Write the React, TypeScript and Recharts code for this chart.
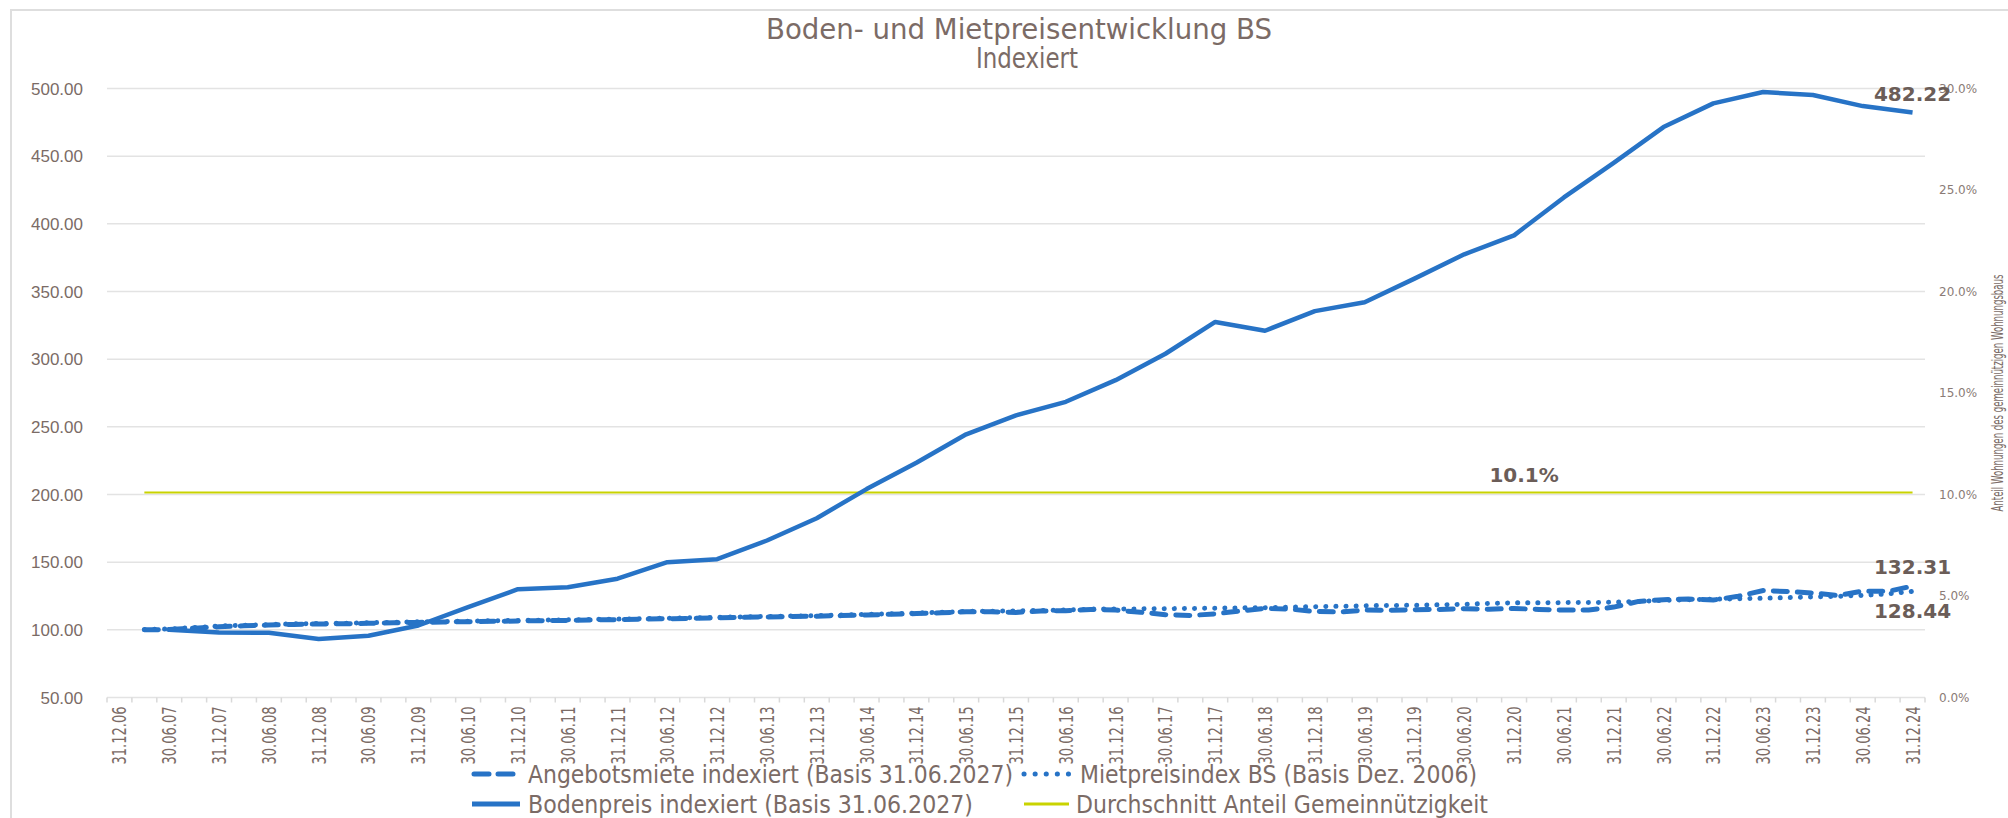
import { CartesianGrid, Legend, LabelList, Line, LineChart, XAxis, YAxis } from "recharts";

const CATEGORIES = [
  "31.12.06",
  "31.03.07", "30.06.07", "30.09.07", "31.12.07",
  "31.03.08", "30.06.08", "30.09.08", "31.12.08",
  "31.03.09", "30.06.09", "30.09.09", "31.12.09",
  "31.03.10", "30.06.10", "30.09.10", "31.12.10",
  "31.03.11", "30.06.11", "30.09.11", "31.12.11",
  "31.03.12", "30.06.12", "30.09.12", "31.12.12",
  "31.03.13", "30.06.13", "30.09.13", "31.12.13",
  "31.03.14", "30.06.14", "30.09.14", "31.12.14",
  "31.03.15", "30.06.15", "30.09.15", "31.12.15",
  "31.03.16", "30.06.16", "30.09.16", "31.12.16",
  "31.03.17", "30.06.17", "30.09.17", "31.12.17",
  "31.03.18", "30.06.18", "30.09.18", "31.12.18",
  "31.03.19", "30.06.19", "30.09.19", "31.12.19",
  "31.03.20", "30.06.20", "30.09.20", "31.12.20",
  "31.03.21", "30.06.21", "30.09.21", "31.12.21",
  "31.03.22", "30.06.22", "30.09.22", "31.12.22",
  "31.03.23", "30.06.23", "30.09.23", "31.12.23",
  "31.03.24", "30.06.24", "30.09.24", "31.12.24",
];

// Angebotsmiete indexiert (quarterly)
const ANGEBOTSMIETE = [
  null,
  100, 100.2, 101.2, 102.3,
  103, 103.5, 104, 104.3,
  104.5, 104.8, 105.2, 105.5,
  105.8, 106, 106.3, 106.5,
  106.8, 107, 107.3, 107.5,
  107.9, 108.2, 108.5, 108.8,
  109.2, 109.5, 109.8, 110.1,
  110.5, 111, 111.5, 112,
  112.6, 113.4, 113.4, 112.9,
  113.9, 114.1, 115.1, 114.6,
  113, 111.2, 110.6, 111.8,
  114, 115.8, 115.3, 113.6,
  113.2, 114.6, 114.4, 114.8,
  115.1, 115.6, 115.2, 115.8,
  115.1, 114.6, 114.6, 116.8,
  121, 122.3, 122.8, 122,
  124.8, 129, 128.3, 127.2,
  125.4, 128.6, 128.4, 132.31,
];

// Mietpreisindex BS (quarterly)
const MIETPREISINDEX = [
  null,
  100.2, 100.6, 101.7, 102.8,
  103.4, 103.9, 104.4, 104.7,
  104.9, 105.2, 105.6, 105.9,
  106.2, 106.4, 106.7, 106.9,
  107.2, 107.4, 107.7, 107.9,
  108.3, 108.6, 108.9, 109.2,
  109.6, 109.9, 110.2, 110.5,
  110.9, 111.4, 111.9, 112.4,
  113, 113.6, 113.8, 114,
  114.3, 114.6, 115.3, 115.4,
  115.5, 115.6, 115.8, 116,
  116.2, 116.4, 116.8, 117.1,
  117.4, 117.8, 118, 118.2,
  118.5, 118.9, 119.5, 120,
  120, 120.1, 120.2, 120.4,
  121, 121.8, 122.2, 122.6,
  123, 123.3, 123.8, 124.3,
  124.8, 125.5, 126.5, 128.44,
];

// Bodenpreis indexiert (semiannual, on the labelled dates)
const BODENPREIS = [
  null,
  null, 100, null, 98,
  null, 97.8, null, 93.3,
  null, 95.6, null, 103.2,
  null, 116.8, null, 130,
  null, 131.5, null, 137.8,
  null, 150, null, 152.2,
  null, 166, null, 182.5,
  null, 204, null, 223.5,
  null, 244.5, null, 258.5,
  null, 268.5, null, 284.5,
  null, 304, null, 327.5,
  null, 321, null, 335.5,
  null, 342, null, 359.5,
  null, 377.5, null, 391.5,
  null, 419.5, null, 445,
  null, 471.5, null, 489,
  null, 497.4, null, 495.2,
  null, 487, null, 482.22,
];

const AVG_SHARE = 0.101;

const LEFT_TICKS = [50, 100, 150, 200, 250, 300, 350, 400, 450, 500];
const RIGHT_TICKS = [0, 0.05, 0.1, 0.15, 0.2, 0.25, 0.3];

const data = CATEGORIES.map((date, i) => ({
  date,
  angebot: ANGEBOTSMIETE[i],
  index: MIETPREISINDEX[i],
  boden: BODENPREIS[i],
  avg: i === 0 ? null : AVG_SHARE,
}));

const W = 2008;
const H = 818;
const PLOT_LEFT = 107;
const PLOT_RIGHT = 1925;
const PLOT_TOP = 88.5;
const PLOT_BOTTOM = 697.5;
const BAND = (PLOT_RIGHT - PLOT_LEFT) / CATEGORIES.length;
const LAST = CATEGORIES.length - 1;

const BLUE = "#2773c6";
const YELLOW = "#c9d300";
const TEXT = "#7b6b66";
const LABEL = "#6b5d58";
const NARROW = '"Liberation Sans Narrow", "DejaVu Sans Condensed", "Roboto", "Liberation Sans", sans-serif';

function XTick(props: any) {
  const { x, index, payload } = props;
  const half = BAND / 2;
  const ly = PLOT_BOTTOM + 9;
  return (
    <g>
      <line x1={x - half} x2={x - half} y1={PLOT_BOTTOM} y2={PLOT_BOTTOM + 5} stroke="#d9d9d9" strokeWidth={1.5} />
      {index === LAST && (
        <line x1={x + half} x2={x + half} y1={PLOT_BOTTOM} y2={PLOT_BOTTOM + 5} stroke="#d9d9d9" strokeWidth={1.5} />
      )}
      {index % 2 === 0 && (
        <text
          x={x}
          y={ly}
          transform={`rotate(-90 ${x} ${ly})`}
          textAnchor="end"
          dominantBaseline="central"
          fontFamily={NARROW}
          fontSize={19}
          fill={TEXT}
          textLength={58}
          lengthAdjust="spacingAndGlyphs"
        >
          {payload.value}
        </text>
      )}
    </g>
  );
}

function endLabel(target: number, text: string, dx: number, dy: number) {
  return (props: any) => {
    const { x, y, index } = props;
    if (index !== target || x == null || y == null) return null;
    return (
      <text
        x={x + dx}
        y={y + dy}
        textAnchor="middle"
        fontFamily='"DejaVu Sans", Verdana, sans-serif'
        fontWeight="bold"
        fontSize={20}
        fill={LABEL}
      >
        {text}
      </text>
    );
  };
}

function renderLegend() {
  const t = { fontFamily: NARROW, fontSize: 25, fill: TEXT, dominantBaseline: "central" as const, lengthAdjust: "spacingAndGlyphs" as const };
  return (
    <svg width={W} height={66}>
      <line x1={474} x2={518} y1={22} y2={22} stroke={BLUE} strokeWidth={5} strokeDasharray="15 9" strokeLinecap="round" />
      <text x={528} y={22} {...t} textLength={485}>Angebotsmiete indexiert (Basis 31.06.2027)</text>
      <line x1={1024} x2={1070} y1={22} y2={22} stroke={BLUE} strokeWidth={5} strokeDasharray="0.1 11" strokeLinecap="round" />
      <text x={1080} y={22} {...t} textLength={397}>Mietpreisindex BS (Basis Dez. 2006)</text>
      <line x1={472} x2={520} y1={52} y2={52} stroke={BLUE} strokeWidth={5} />
      <text x={528} y={52} {...t} textLength={445}>Bodenpreis indexiert (Basis 31.06.2027)</text>
      <line x1={1024} x2={1069} y1={52} y2={52} stroke={YELLOW} strokeWidth={3} />
      <text x={1076} y={52} {...t} textLength={412}>Durchschnitt Anteil Gemeinnützigkeit</text>
    </svg>
  );
}

export default function App() {
  return (
    <div style={{ position: "fixed", left: 0, top: 0, width: W, height: H, background: "#fff", overflow: "hidden" }}>
      <div
        style={{
          position: "absolute",
          left: 10,
          top: 9,
          width: W,
          height: H,
          borderTop: "2px solid #dedede",
          borderLeft: "2px solid #dedede",
        }}
      />
      <div style={{ position: "absolute", left: 0, top: 0 }}>
        <LineChart width={W} height={H} data={data} margin={{ top: PLOT_TOP, right: 0, bottom: 0, left: 0 }}>
          <CartesianGrid yAxisId="left" vertical={false} stroke="#e3e3e3" strokeWidth={1.5} />
          <XAxis
            dataKey="date"
            height={H - PLOT_BOTTOM}
            interval={0}
            padding={{ left: BAND / 2, right: BAND / 2 }}
            axisLine={false}
            tickLine={false}
            tick={<XTick />}
          />
          <YAxis
            yAxisId="left"
            width={PLOT_LEFT}
            domain={[50, 500]}
            ticks={LEFT_TICKS}
            tickFormatter={(v: number) => v.toFixed(2)}
            axisLine={false}
            tickLine={false}
            tickMargin={18}
            tick={{ fontFamily: '"Liberation Sans", Arial, sans-serif', fontSize: 17, fill: TEXT }}
          />
          <YAxis
            yAxisId="right"
            orientation="right"
            width={W - PLOT_RIGHT}
            domain={[0, 0.3]}
            ticks={RIGHT_TICKS}
            tickFormatter={(v: number) => `${(v * 100).toFixed(1)}%`}
            axisLine={false}
            tickLine={false}
            tickMargin={8}
            tick={{ fontFamily: '"DejaVu Sans", Verdana, sans-serif', fontSize: 12, fill: "#8a7b76", textAnchor: "start" }}
          />
          <Legend
            layout="horizontal"
            verticalAlign="middle"
            align="center"
            wrapperStyle={{ top: 752, left: 0, width: W, height: 66 }}
            content={renderLegend}
          />
          <Line
            yAxisId="right"
            dataKey="avg"
            name="Durchschnitt Anteil Gemeinnützigkeit"
            stroke={YELLOW}
            strokeWidth={2}
            dot={false}
            isAnimationActive={false}
          >
            <LabelList dataKey="avg" content={endLabel(56, "10.1%", 10, -10)} />
          </Line>
          <Line
            yAxisId="left"
            dataKey="boden"
            name="Bodenpreis indexiert (Basis 31.06.2027)"
            stroke={BLUE}
            strokeWidth={4.5}
            strokeLinejoin="round"
            connectNulls
            dot={false}
            isAnimationActive={false}
          >
            <LabelList dataKey="boden" content={endLabel(LAST, "482.22", 0, -12)} />
          </Line>
          <Line
            yAxisId="left"
            dataKey="index"
            name="Mietpreisindex BS (Basis Dez. 2006)"
            stroke={BLUE}
            strokeWidth={5}
            strokeDasharray="0.1 10"
            strokeLinecap="round"
            dot={false}
            isAnimationActive={false}
          >
            <LabelList dataKey="index" content={endLabel(LAST, "128.44", 0, 27)} />
          </Line>
          <Line
            yAxisId="left"
            dataKey="angebot"
            name="Angebotsmiete indexiert (Basis 31.06.2027)"
            stroke={BLUE}
            strokeWidth={5}
            strokeDasharray="14 10"
            strokeLinecap="round"
            dot={false}
            isAnimationActive={false}
          >
            <LabelList dataKey="angebot" content={endLabel(LAST, "132.31", 0, -12)} />
          </Line>
        </LineChart>
      </div>
      <svg width={W} height={H} style={{ position: "absolute", left: 0, top: 0, pointerEvents: "none" }}>
        <text x={1019} y={39} textAnchor="middle" fontFamily={NARROW} fontSize={28} fill={TEXT} textLength={506} lengthAdjust="spacingAndGlyphs">
          Boden- und Mietpreisentwicklung BS
        </text>
        <text x={1027} y={68} textAnchor="middle" fontFamily={NARROW} fontSize={28} fill={TEXT} textLength={102} lengthAdjust="spacingAndGlyphs">
          Indexiert
        </text>
        <text
          x={1997}
          y={(PLOT_TOP + PLOT_BOTTOM) / 2}
          transform={`rotate(-90 1997 ${(PLOT_TOP + PLOT_BOTTOM) / 2})`}
          textAnchor="middle"
          dominantBaseline="central"
          fontFamily={NARROW}
          fontSize={16}
          fill={TEXT}
          textLength={237}
          lengthAdjust="spacingAndGlyphs"
        >
          Anteil Wohnungen des gemeinnützigen Wohnungsbaus
        </text>
      </svg>
    </div>
  );
}
